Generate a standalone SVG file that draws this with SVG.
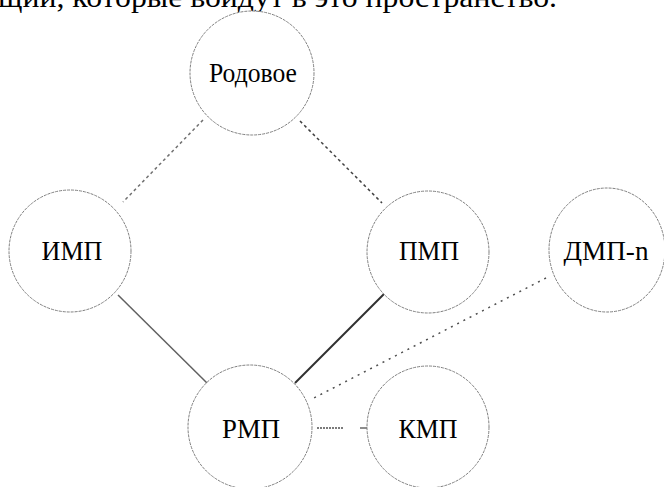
<svg xmlns="http://www.w3.org/2000/svg" width="664" height="487" viewBox="0 0 664 487">
<style>
.node circle, .node ellipse { fill: #ffffff; stroke: #808080; stroke-width: 1; stroke-dasharray: 3 1; }
.lbl { font-family: "Liberation Serif", "Times New Roman", serif; font-size: 28px; fill: #000; text-anchor: middle; }
.top { font-family: "Liberation Serif", "Times New Roman", serif; font-size: 30px; fill: #000; }
.c { fill: none; }
</style>
<rect width="664" height="487" fill="#ffffff"/>
<text class="top" x="-2" y="7" textLength="559" lengthAdjust="spacingAndGlyphs">щий, которые войдут в это пространство.</text>
<g id="connectors">
  <line class="c" x1="203" y1="120" x2="123" y2="202" stroke="#707070" stroke-width="1.5" stroke-dasharray="3 3"/>
  <line class="c" x1="300" y1="121" x2="382" y2="203" stroke="#404040" stroke-width="1.5" stroke-dasharray="3 3"/>
  <line class="c" x1="118" y1="295" x2="207" y2="383" stroke="#606060" stroke-width="1.5"/>
  <line class="c" x1="385" y1="293" x2="295" y2="383" stroke="#303030" stroke-width="2"/>
  <line class="c" x1="546" y1="278" x2="310" y2="400" stroke="#505050" stroke-width="1.5" stroke-dasharray="2 5"/>
  <path class="c" d="M317 428 H343" stroke="#505050" stroke-width="1.3" stroke-dasharray="2 1"/>
  <path class="c" d="M360 428 H367" stroke="#505050" stroke-width="1.3"/>
</g>
<g id="node-rodovoe" class="node">
  <circle cx="252" cy="73" r="62"/>
  <text class="lbl" x="253" y="82" textLength="88" lengthAdjust="spacingAndGlyphs">Родовое</text>
</g>
<g id="node-imp" class="node">
  <circle cx="70" cy="251" r="61"/>
  <text class="lbl" x="72" y="260" textLength="61" lengthAdjust="spacingAndGlyphs">ИМП</text>
</g>
<g id="node-pmp" class="node">
  <circle cx="428" cy="252" r="61"/>
  <text class="lbl" x="429" y="260" textLength="60" lengthAdjust="spacingAndGlyphs">ПМП</text>
</g>
<g id="node-dmp" class="node">
  <ellipse cx="607" cy="250" rx="58" ry="62"/>
  <text class="lbl" x="606" y="260" textLength="85" lengthAdjust="spacingAndGlyphs">ДМП-n</text>
</g>
<g id="node-rmp" class="node">
  <circle cx="250" cy="427" r="62"/>
  <text class="lbl" x="251" y="438" textLength="58" lengthAdjust="spacingAndGlyphs">РМП</text>
</g>
<g id="node-kmp" class="node">
  <circle cx="428" cy="427" r="61"/>
  <text class="lbl" x="428" y="438" textLength="59" lengthAdjust="spacingAndGlyphs">КМП</text>
</g>
</svg>
